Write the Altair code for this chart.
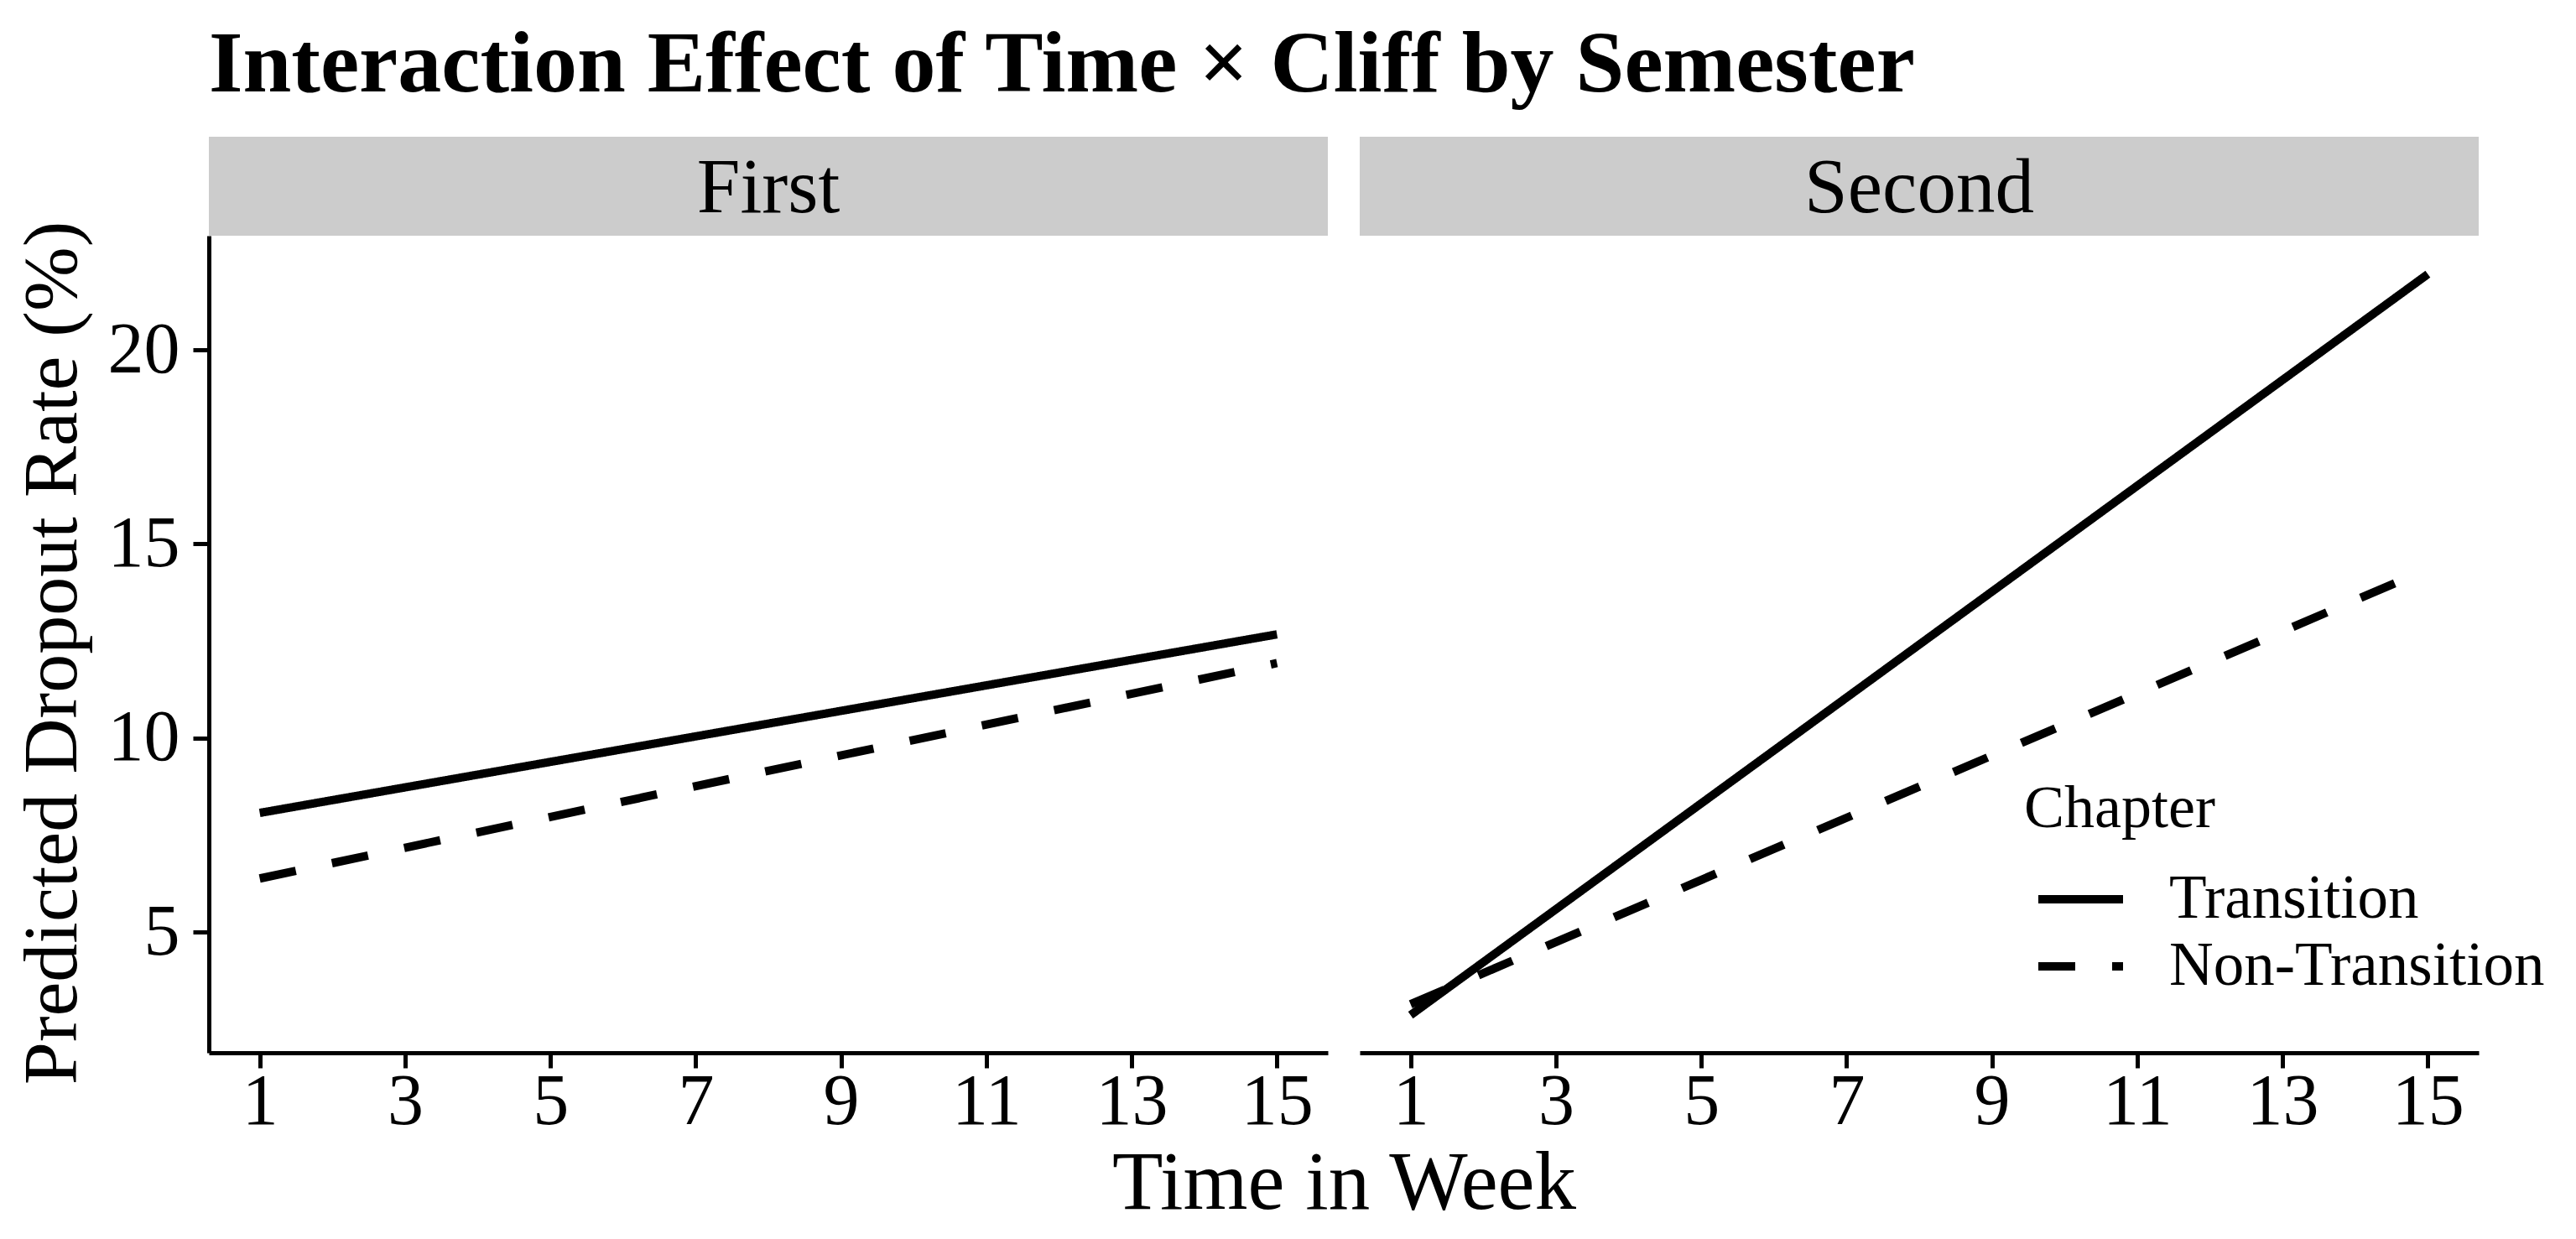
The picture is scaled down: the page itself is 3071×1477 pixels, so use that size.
import altair as alt
import pandas as pd

# ---- data ----
semesters = ["First", "Second"]
chapters = ["Transition", "Non-Transition"]
weeks = [1, 15]
first_transition = [8.07, 12.67]
first_non_transition = [6.38, 11.93]
second_transition = [2.86, 21.95]
second_non_transition = [3.14, 14.35]
x_ticks = [1, 3, 5, 7, 9, 11, 13, 15]
y_ticks = [5, 10, 15, 20]

series = {
    ("First", "Transition"): first_transition,
    ("First", "Non-Transition"): first_non_transition,
    ("Second", "Transition"): second_transition,
    ("Second", "Non-Transition"): second_non_transition,
}
rows = []
for (sem, chap), vals in series.items():
    for w, v in zip(weeks, vals):
        rows.append({"Semester": sem, "Chapter": chap, "Week": w, "Rate": v})
df = pd.DataFrame(rows)

FONT = "Liberation Serif"
W = 1334
H = 974
GAP = 38
STRIP = 118


def panel(sem, first):
    d = df[df["Semester"] == sem]
    xaxis = alt.Axis(
        values=x_ticks,
        title="Time in Week" if first else None,
        titleX=W + GAP / 2,
        labelFontSize=86,
        titleFontSize=99,
        tickSize=18,
        labelPadding=-2,
        titlePadding=6,
    )
    if first:
        yaxis = alt.Axis(
            values=y_ticks,
            title="Predicted Dropout Rate (%)",
            labelFontSize=86,
            titleFontSize=92,
            tickSize=19,
            labelPadding=16,
            titlePadding=19,
            titleY=H / 2 + 10,
        )
    else:
        yaxis = None
    if first:
        legend = None
    else:
        legend = alt.Legend(
            title="Chapter",
            orient="none",
            legendX=792,
            legendY=648,
            titleFontSize=72,
            titleFontWeight="normal",
            titleFont=FONT,
            titleColor="black",
            titlePadding=33,
            titleLimit=2000,
            labelFontSize=73,
            labelFont=FONT,
            labelColor="black",
            labelOffset=50,
            labelLimit=2000,
            symbolType="stroke",
            symbolSize=10201,
            symbolStrokeWidth=10,
            symbolStrokeColor="black",
            symbolOffset=12,
            clipHeight=76,
            rowPadding=4,
        )
    lines = alt.Chart(d).mark_line(color="black", strokeWidth=10, strokeCap="butt").encode(
        x=alt.X("Week:Q", scale=alt.Scale(domain=[0.3, 15.7], nice=False, zero=False), axis=xaxis),
        y=alt.Y("Rate:Q", scale=alt.Scale(domain=[1.89, 22.94], nice=False, zero=False), axis=yaxis),
        strokeDash=alt.StrokeDash(
            "Chapter:N",
            scale=alt.Scale(domain=chapters, range=[[1, 0], [44, 44]]),
            legend=legend,
        ),
    )
    sd = pd.DataFrame({"Semester": [sem]})
    strip_rect = alt.Chart(sd).mark_rect(color="#CCCCCC").encode(
        x=alt.value(0), x2=alt.value(W), y=alt.value(-STRIP), y2=alt.value(0)
    )
    strip_text = alt.Chart(sd).mark_text(
        font=FONT, fontSize=93, baseline="alphabetic", align="center", color="black"
    ).encode(text="Semester:N", x=alt.value(W / 2), y=alt.value(-STRIP + 90))
    return alt.layer(strip_rect, strip_text, lines).properties(width=W, height=H)


chart = (
    alt.hconcat(panel("First", True), panel("Second", False), spacing=GAP, bounds="flush")
    .resolve_scale(strokeDash="independent")
    .resolve_legend(strokeDash="independent")
    .properties(
        title=alt.TitleParams(
            "Interaction Effect of Time × Cliff by Semester",
            anchor="start",
            frame="group",
            font=FONT,
            fontSize=104,
            fontWeight="bold",
            color="black",
            offset=32,
        ),
        padding={"left": 7, "top": 18, "right": 5, "bottom": 5},
        background="white",
    )
    .configure_view(stroke=None)
    .configure_axis(
        grid=False,
        domainColor="black",
        domainWidth=5,
        tickColor="black",
        tickWidth=5,
        labelColor="black",
        titleColor="black",
        labelFont=FONT,
        titleFont=FONT,
        titleFontWeight="normal",
    )
)

chart.save("out.html", embed_options={"renderer": "svg", "actions": False})
